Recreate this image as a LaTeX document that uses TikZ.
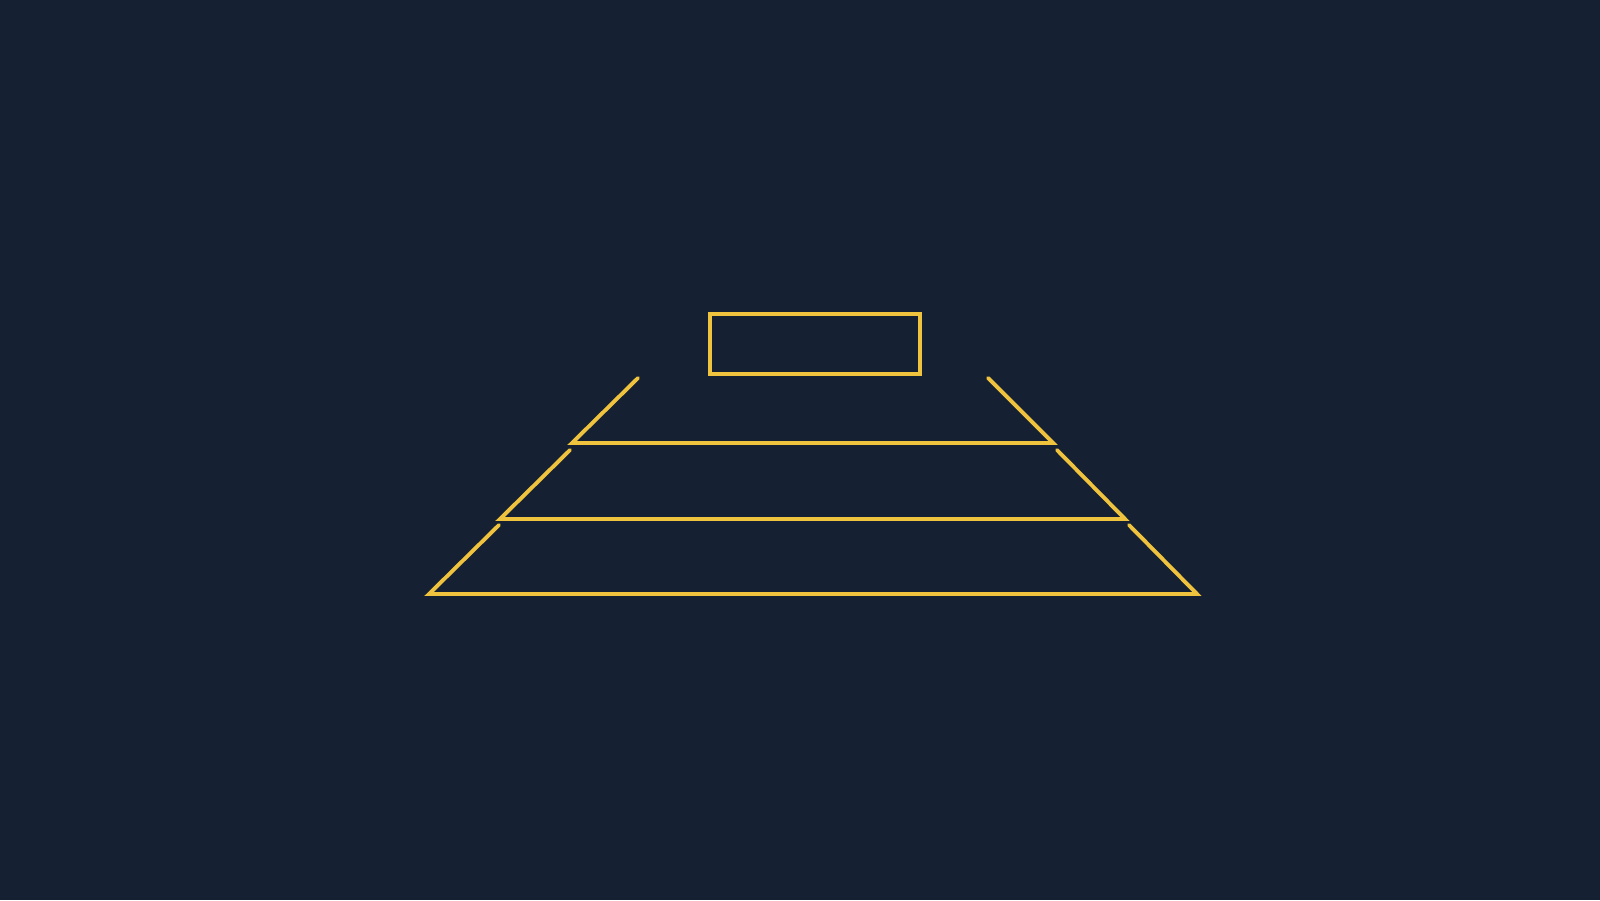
\documentclass[tikz,border=0pt]{standalone}
\usepackage{xcolor}
\definecolor{bgnavy}{HTML}{152133}
\definecolor{tiergold}{HTML}{EFC33E}
\begin{document}
\begin{tikzpicture}[
			x=1cm, y=1cm,
			tier/.style={draw=tiergold, line width=1.1pt, line cap=round, line join=miter},
			capbox/.style={rectangle, draw=tiergold, line width=1.1pt, minimum width=2.1cm, minimum height=0.6cm, inner sep=0pt}
		]
		\fill[bgnavy] (0,0) rectangle (16,9);
		\useasboundingbox (0,0) rectangle (16,9);
		\node[capbox] (cap) at (8.15,5.56) {};
		\foreach \n/\lt/\lb/\rb/\rt/\ty/\by in {
				1/6.38/5.72/10.53/9.88/5.22/4.57,
				2/5.70/5.00/11.25/10.57/4.50/3.81,
				3/4.99/4.29/11.97/11.29/3.75/3.06} {
				\coordinate (t\n-lt) at (\lt,\ty);
				\coordinate (t\n-lb) at (\lb,\by);
				\coordinate (t\n-rb) at (\rb,\by);
				\coordinate (t\n-rt) at (\rt,\ty);
				\draw[tier] (t\n-lt) -- (t\n-lb) -- (t\n-rb) -- (t\n-rt);
			}
	\end{tikzpicture}
\end{document}
